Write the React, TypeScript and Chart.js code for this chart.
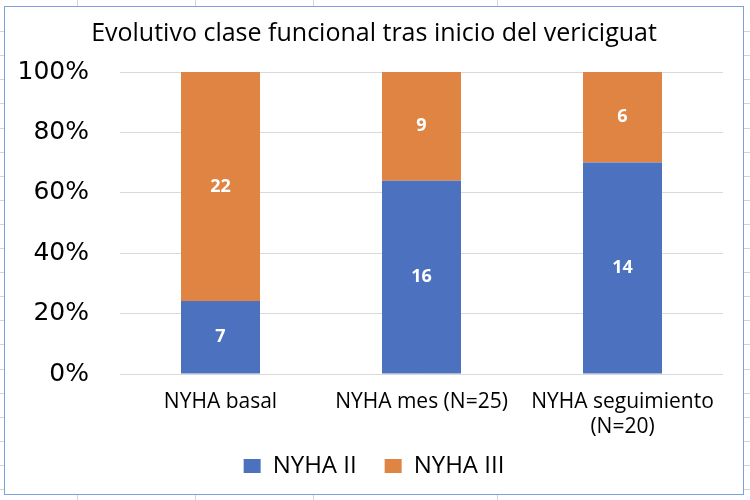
import React, { useEffect, useRef } from "react";
import { Chart, registerables } from "chart.js";

Chart.register(...registerables);

const chartTitle = "Evolutivo clase funcional tras inicio del vericiguat";
const categories: (string | string[])[] = ["NYHA basal", "NYHA mes (N=25)", ["NYHA seguimiento", "(N=20)"]];
const seriesNames = ["NYHA II", "NYHA III"];
const nyhaII = [7, 16, 14];
const nyhaIII = [22, 9, 6];
const yTickValues = [0, 20, 40, 60, 80, 100];

const seriesColors = ["#4c72bf", "#df8443"];
const sheetColumns = [77, 195, 313, 497];

const totals = nyhaII.map((v, i) => v + nyhaIII[i]);
const pct = (arr: number[]) => arr.map((v, i) => (v / totals[i]) * 100);
const counts = [nyhaII, nyhaIII];

const dataLabelPlugin = {
  id: "dataLabels",
  beforeDraw(chart: any) {
    // let tick labels spill outside their axis boxes
    const xs = chart.scales.x;
    const ys = chart.scales.y;
    if (xs) xs._computeLabelArea = () => undefined;
    if (ys) ys._computeLabelArea = () => undefined;
  },
  afterDatasetsDraw(chart: any) {
    const ctx = chart.ctx;
    ctx.save();
    ctx.font = "bold 18px 'Open Sans'";
    ctx.fillStyle = "#ffffff";
    ctx.textAlign = "center";
    ctx.textBaseline = "middle";
    chart.data.datasets.forEach((_ds: any, di: number) => {
      const meta = chart.getDatasetMeta(di);
      meta.data.forEach((el: any, i: number) => {
        const p = el.getCenterPoint();
        ctx.fillText(String(counts[di][i]), p.x, p.y);
      });
    });
    ctx.restore();
  },
};

export default function App() {
  const canvasRef = useRef<HTMLCanvasElement | null>(null);

  useEffect(() => {
    document.body.style.margin = "0";
    const canvas = canvasRef.current;
    if (!canvas) return;
    const chart = new Chart(canvas, {
      type: "bar",
      data: {
        labels: categories as any,
        datasets: [
          { label: seriesNames[0], data: pct(nyhaII), backgroundColor: seriesColors[0] },
          { label: seriesNames[1], data: pct(nyhaIII), backgroundColor: seriesColors[1] },
        ],
      },
      options: {
        animation: false,
        responsive: false,
        maintainAspectRatio: false,
        layout: { padding: { left: 20, right: 20, top: 0, bottom: 6 } },
        datasets: { bar: { categoryPercentage: 0.393, barPercentage: 1 } } as any,
        scales: {
          x: {
            stacked: true,
            grid: { display: false },
            border: { display: false },
            afterFit: (axis: any) => {
              axis.height = 52;
            },
            ticks: {
              font: { family: "'Open Sans'", size: 21 },
              color: "#000000",
              padding: 7,
              maxRotation: 0,
              autoSkip: false,
            },
          },
          y: {
            stacked: true,
            min: 0,
            max: 100,
            afterBuildTicks: (axis: any) => {
              axis.ticks = yTickValues.map((v) => ({ value: v }));
            },
            afterFit: (axis: any) => {
              axis.width = 95;
            },
            grid: { color: "#d9d9d9", lineWidth: 1, drawTicks: false },
            border: { display: false },
            ticks: {
              font: { family: "'DejaVu Sans'", size: 25 },
              color: "#000000",
              padding: 31,
              callback: (v: any) => v + "%",
            },
          },
        },
        plugins: {
          title: {
            display: true,
            text: chartTitle,
            font: { family: "'Open Sans'", size: 25, weight: "normal" },
            color: "#000000",
            padding: { top: 12, bottom: 23 },
          },
          legend: {
            position: "bottom",
            labels: {
              font: { family: "'Open Sans'", size: 24 },
              color: "#000000",
              boxWidth: 17,
              boxHeight: 14,
              padding: 28,
            },
          },
          tooltip: { enabled: false },
        },
      },
      plugins: [dataLabelPlugin],
    });
    return () => chart.destroy();
  }, []);

  return (
    <div
      style={{
        position: "fixed",
        left: 0,
        top: 0,
        width: 750,
        height: 500,
        background: "#ffffff",
        backgroundImage:
          "repeating-linear-gradient(to bottom, transparent 0px, transparent 23.1px, #d4d4d4 23.1px, #d4d4d4 24.1px)",
        backgroundPosition: "0px 8px",
        overflow: "hidden",
      }}
    >
      {sheetColumns.map((x) => (
        <div
          key={x}
          style={{ position: "absolute", left: x, top: 0, width: 1, height: 500, background: "#d4d4d4" }}
        />
      ))}
      <div
        style={{
          position: "absolute",
          left: 4,
          top: 6,
          width: 740,
          height: 489,
          boxSizing: "border-box",
          border: "1px solid #7f9fdf",
          background: "#ffffff",
        }}
      >
        <canvas ref={canvasRef} width={738} height={487} style={{ display: "block" }} />
      </div>
    </div>
  );
}
